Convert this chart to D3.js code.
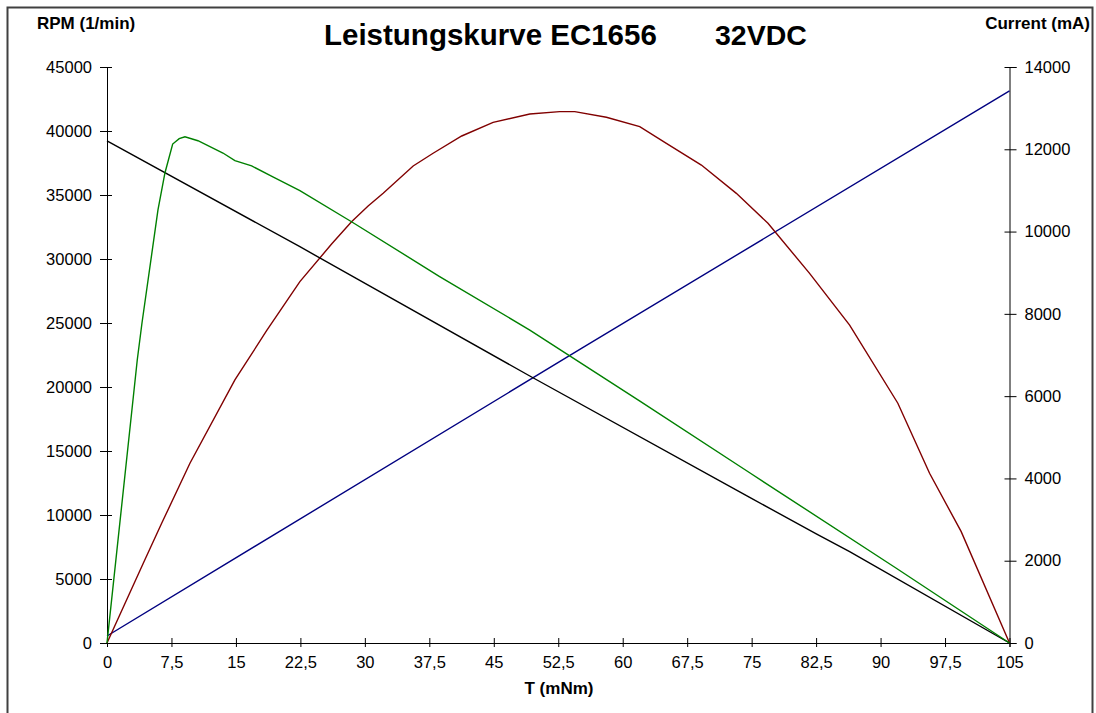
<!DOCTYPE html>
<html>
<head>
<meta charset="utf-8">
<script src="https://cdnjs.cloudflare.com/ajax/libs/d3/7.8.5/d3.min.js"></script>
<style>
  body { margin: 0; background: #fff; }
  text { font-family: "Liberation Sans", Arial, sans-serif; }
</style>
</head>
<body>
<div id="chart"></div>
<script>
// torque ticks (mNm) and axis ticks
var torqueTicks = [0, 7.5, 15, 22.5, 30, 37.5, 45, 52.5, 60, 67.5, 75, 82.5, 90, 97.5, 105];
var rpmTicks = [0, 5000, 10000, 15000, 20000, 25000, 30000, 35000, 40000, 45000];
var currentTicks = [0, 2000, 4000, 6000, 8000, 10000, 12000, 14000];

// speed (black) : [T, rpm]
var speed = [[0, 39220], [22.44, 30960], [49.19, 20860], [74.77, 11380],
             [82.52, 8520], [86.4, 7130], [105, 0]];

// green curve on the rpm scale : [T, value]
var green = [[0, 0], [3.52, 22110], [4.07, 25000], [5.93, 33830],
             [6.74, 36720], [7.64, 38980], [8.4, 39400], [9.07, 39550], [10.58, 39240],
             [13.49, 38280], [14.88, 37680], [16.83, 37270], [19.3, 36410],
             [22.44, 35340], [28.45, 32910], [38.7, 28630], [49.19, 24450],
             [62, 18900], [74.77, 13300], [91.83, 5840], [105, 0]];

// red curve on the rpm scale : [T, value]
var red = [[0, 0], [4.22, 6230], [6.36, 9350], [9.65, 14040], [14.88, 20550],
           [18.57, 24400], [22.44, 28230], [26.13, 31170], [28.45, 32910],
           [30.38, 34140], [32.13, 35130], [35.62, 37270], [37.94, 38260],
           [41.27, 39610], [44.92, 40680], [49.19, 41330], [52.67, 41510],
           [54.42, 41510], [58.1, 41070], [61.98, 40340], [65.08, 39040],
           [69.15, 37340], [73.22, 35130], [76.9, 32790], [81.74, 28880],
           [86.4, 24840], [92.01, 18730], [95.7, 13260], [99.38, 8700], [105, 0]];

// current (blue, right axis) : [T, mA]
var current = [[0, 170], [55.2, 7160], [105, 13420]];

var width = 1096,
    height = 713;

var svg = d3.select("#chart").append("svg")
    .attr("width", width)
    .attr("height", height);

// outer frame
svg.append("rect")
    .attr("x", 7.5).attr("y", 7.5)
    .attr("width", 1085).attr("height", 720)
    .attr("fill", "none")
    .attr("stroke", "#404040")
    .attr("stroke-width", 2);

var x = d3.scaleLinear().domain([0, 105]).range([107, 1009.5]);
var yL = d3.scaleLinear().domain([0, 45000]).range([643, 67]);
var yR = d3.scaleLinear().domain([0, 14000]).range([643, 67]);

var fmtT = function(d) { return String(d).replace(".", ","); };

// bottom axis
var xAxis = svg.append("g")
    .attr("transform", "translate(0,643)")
    .call(d3.axisBottom(x).tickValues(torqueTicks).tickFormat(fmtT).tickSizeOuter(0).tickSize(4).tickPadding(9));

// left axis
var leftAxis = svg.append("g")
    .attr("transform", "translate(107,0)")
    .call(d3.axisLeft(yL).tickValues(rpmTicks).tickFormat(d3.format("d")).tickSizeOuter(0).tickSize(7).tickPadding(8));

// right axis
var rightAxis = svg.append("g")
    .attr("transform", "translate(1009.5,0)")
    .call(d3.axisRight(yR).tickValues(currentTicks).tickFormat(d3.format("d")).tickSizeOuter(0).tickSize(7).tickPadding(8));

// ticks cross the axis lines
xAxis.selectAll(".tick line").attr("y1", -5);
leftAxis.selectAll(".tick line").attr("x1", 5);
rightAxis.selectAll(".tick line").attr("x1", -5);

[xAxis, leftAxis, rightAxis].forEach(function(a) {
    a.select(".domain").attr("stroke", "#000");
    a.selectAll(".tick line").attr("stroke", "#000");
    a.selectAll("text")
        .attr("fill", "#000")
        .style("font-size", "16.5px")
        .style("font-family", "'Liberation Sans', Arial, sans-serif");
});
xAxis.selectAll("text").attr("dy", "0.75em");

// lines
var lineL = d3.line()
    .x(function(d) { return x(d[0]); })
    .y(function(d) { return yL(d[1]); });
var lineR = d3.line()
    .x(function(d) { return x(d[0]); })
    .y(function(d) { return yR(d[1]); });

svg.append("path").datum(current).attr("d", lineR)
    .attr("fill", "none").attr("stroke", "#000080").attr("stroke-width", 1.4);
svg.append("path").datum(red).attr("d", lineL)
    .attr("fill", "none").attr("stroke", "#800000").attr("stroke-width", 1.4);
svg.append("path").datum(speed).attr("d", lineL)
    .attr("fill", "none").attr("stroke", "#000").attr("stroke-width", 1.4);
svg.append("path").datum(green).attr("d", lineL)
    .attr("fill", "none").attr("stroke", "#008000").attr("stroke-width", 1.4);

// titles
svg.append("text")
    .attr("x", 324).attr("y", 45)
    .style("font-size", "29.5px").style("font-weight", "bold")
    .text("Leistungskurve EC1656");
svg.append("text")
    .attr("x", 715).attr("y", 45)
    .style("font-size", "28.5px").style("font-weight", "bold")
    .text("32VDC");

svg.append("text")
    .attr("x", 37).attr("y", 29)
    .style("font-size", "17px").style("font-weight", "bold")
    .text("RPM (1/min)");
svg.append("text")
    .attr("x", 1090).attr("y", 29)
    .attr("text-anchor", "end")
    .style("font-size", "17px").style("font-weight", "bold")
    .text("Current (mA)");
svg.append("text")
    .attr("x", 559).attr("y", 694)
    .attr("text-anchor", "middle")
    .style("font-size", "17px").style("font-weight", "bold")
    .text("T (mNm)");
</script>
</body>
</html>
